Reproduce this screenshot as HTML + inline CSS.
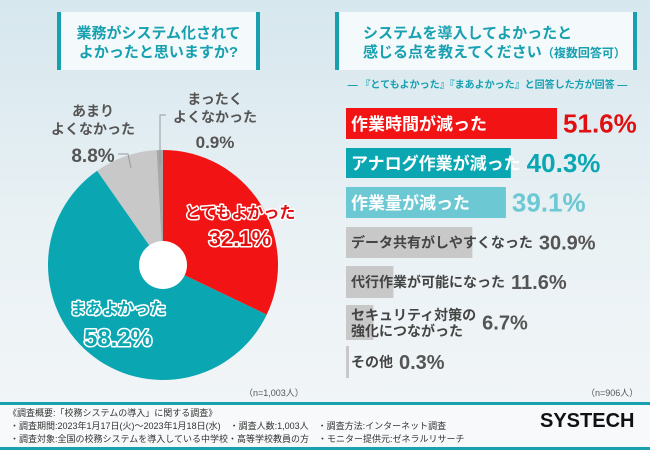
<!DOCTYPE html>
<html><head><meta charset="utf-8">
<style>
body{margin:0}
#c{position:relative;width:650px;height:450px;overflow:hidden;background:linear-gradient(180deg,#d6e7ee 0%,#e9f1f4 50%,#f3f6f8 100%);font-family:"Liberation Sans","Noto Sans CJK JP",sans-serif;}
.t{position:absolute;font-weight:bold}
.box{position:absolute;background:#f4f9fb;border-left:4px solid #19a0ae;border-right:4px solid #19a0ae;color:#17a0b0;font-weight:bold;font-size:15px;line-height:19px}
</style></head><body>
<div id="c">
<div class="box" style="left:57px;top:12px;width:203px;height:58px;text-align:center;padding-top:12px;box-sizing:border-box">業務がシステム化されて<br>よかったと思いますか?</div>
<div class="box" style="left:335px;top:12px;width:302px;height:58px;padding:12px 0 0 24px;box-sizing:border-box">システムを導入してよかったと<br>感じる点を教えてください<span style="font-size:12px">（複数回答可）</span></div>
<div class="t" style="left:335px;top:76px;width:305px;text-align:center;font-size:10px;color:#17a0b0">― 『とてもよかった』『まあよかった』と回答した方が回答 ―</div>
<svg id="pie" width="650" height="450" style="position:absolute;left:0;top:0"></svg>
<svg id="bars" width="650" height="450" style="position:absolute;left:0;top:0"></svg>
<div class="t" style="left:244px;top:386px;font-size:9px;font-weight:normal;color:#555">（n=1,003人）</div>
<div class="t" style="left:586px;top:386px;font-size:9px;font-weight:normal;color:#555">（n=906人）</div>
<div style="position:absolute;left:0;top:402px;width:650px;height:3px;background:#19a0ae"></div>
<div style="position:absolute;left:0;top:405px;width:650px;height:42px;background:#f7f9fa;font-size:9px;color:#333;line-height:12px">
<div style="position:absolute;left:8px;top:2px">《調査概要:「校務システムの導入」に関する調査》</div>
<div style="position:absolute;left:10px;top:15px">・調査期間:2023年1月17日(火)〜2023年1月18日(水)　・調査人数:1,003人　・調査方法:インターネット調査</div>
<div style="position:absolute;left:10px;top:28px">・調査対象:全国の校務システムを導入している中学校・高等学校教員の方</div>
<div style="position:absolute;left:318px;top:28px">・モニター提供元:ゼネラルリサーチ</div>
<div style="position:absolute;left:540px;top:10px;font-size:20px;font-weight:900;color:#111;font-family:'Liberation Sans',sans-serif">SYSTECH</div>
</div>
<div style="position:absolute;left:0;top:447px;width:650px;height:3px;background:#19a0ae"></div>
</div>
<script>
const pieLabels=["とてもよかった","まあよかった","あまりよくなかった","まったくよくなかった"];
const pieValues=[32.1,58.2,8.8,0.9];
const pieColors=["#f21414","#0aa7b3","#c8c8c8","#a9a9a9"];
const barLabels=["作業時間が減った","アナログ作業が減った","作業量が減った","データ共有がしやすくなった","代行作業が可能になった","セキュリティ対策の|強化につながった","その他"];
const barValues=[51.6,40.3,39.1,30.9,11.6,6.7,0.3];
const NS="http://www.w3.org/2000/svg";
function mk(p,tag,a){const e=document.createElementNS(NS,tag);for(const k in a)e.setAttribute(k,a[k]);p.appendChild(e);return e;}
const pie=document.getElementById('pie');const cx=163,cy=265,R=115;
const tot=pieValues.reduce((a,b)=>a+b,0);let ang=0;
function pt(a,r){return [cx+r*Math.sin(a),cy-r*Math.cos(a)];}
pieValues.forEach((v,i)=>{const a0=ang,a1=ang+v/tot*2*Math.PI;ang=a1;
const p0=pt(a0,R),p1=pt(a1,R);const large=(a1-a0)>Math.PI?1:0;
const s=mk(pie,'path',{d:`M${cx},${cy}L${p0[0]},${p0[1]}A${R},${R} 0 ${large} 1 ${p1[0]},${p1[1]}Z`,fill:pieColors[i]});

});
const hole=mk(pie,'circle',{cx:cx,cy:cy,r:24,fill:'#fff'});


function txt(p,x,y,s,o){const e=mk(p,'text',Object.assign({x:x,y:y,'font-weight':'bold'},o));e.textContent=s;return e;}
const st={stroke:'#fff','stroke-width':3,'paint-order':'stroke','stroke-linejoin':'round'};
let e;
e=txt(pie,240,218,pieLabels[0],Object.assign({fill:'#e01010','font-size':16,'text-anchor':'middle'},st));
e=txt(pie,240,246,pieValues[0].toFixed(1)+'%',Object.assign({fill:'#e01010','font-size':22,'text-anchor':'middle'},st));
e=txt(pie,118,314,pieLabels[1],Object.assign({fill:'#0aa7b3','font-size':16,'text-anchor':'middle'},st));
e=txt(pie,118,346,pieValues[1].toFixed(1)+'%',Object.assign({fill:'#0aa7b3','font-size':24,'text-anchor':'middle'},st));
e=txt(pie,93,116,'あまり',{fill:'#555','font-size':14,'text-anchor':'middle'});
e=txt(pie,93,134,'よくなかった',{fill:'#555','font-size':14,'text-anchor':'middle'});
e=txt(pie,93,162,pieValues[2].toFixed(1)+'%',{fill:'#555','font-size':19,'text-anchor':'middle'});
e=txt(pie,215,104,'まったく',{fill:'#555','font-size':14,'text-anchor':'middle'});
e=txt(pie,215,122,'よくなかった',{fill:'#555','font-size':14,'text-anchor':'middle'});
e=txt(pie,215,148,pieValues[3].toFixed(1)+'%',{fill:'#555','font-size':17,'text-anchor':'middle'});
mk(pie,'polyline',{points:'118,154 128,154 131,168',fill:'none',stroke:'#999','stroke-width':1});
mk(pie,'polyline',{points:'166,115 160,115 160,165',fill:'none',stroke:'#999','stroke-width':1});
const bars=document.getElementById('bars');const x0=346,scale=4.09;
const rowY=[108,148,187,227,266,305,346],rowH=[31,30,31,31,32,35,32];
const bc=['#f21414','#0aa7b3','#6cc9d3','#c8c8c8','#c8c8c8','#c8c8c8','#c8c8c8'];
const tc=['#fff','#fff','#fff','#444','#444','#444','#444'];
const vc=['#e01010','#0aa7b3','#6cc9d3','#555','#555','#555','#555'];
barValues.forEach((v,i)=>{
const w=Math.max(v*scale,3);
const r=mk(bars,'rect',{x:x0,y:rowY[i],width:w,height:rowH[i],fill:bc[i]});


const lines=barLabels[i].split('|');const fs=i<3?17:14;
const lb=mk(bars,'text',{x:x0+5,y:rowY[i]+rowH[i]/2+(lines.length>1?-2:fs*0.37),fill:tc[i],'font-size':fs,'font-weight':'bold'});
lines.forEach((l,j)=>{const ts=mk(lb,'tspan',{x:x0+5,dy:j?16:0});ts.textContent=l;});
if(lines.length>1)lb.setAttribute('y',rowY[i]+15);


const tw=lb.getComputedTextLength?Math.max(...Array.from(lb.childNodes).map(n=>n.getComputedTextLength())):0;
const vx=Math.max(x0+w,x0+5+tw)+6;
const vt=mk(bars,'text',{x:vx,y:rowY[i]+rowH[i]/2+(i<3?9:7),fill:vc[i],'font-size':i<3?26:20,'font-weight':'bold'});
vt.textContent=v.toFixed(1)+'%';


});
</script>
</body></html>
